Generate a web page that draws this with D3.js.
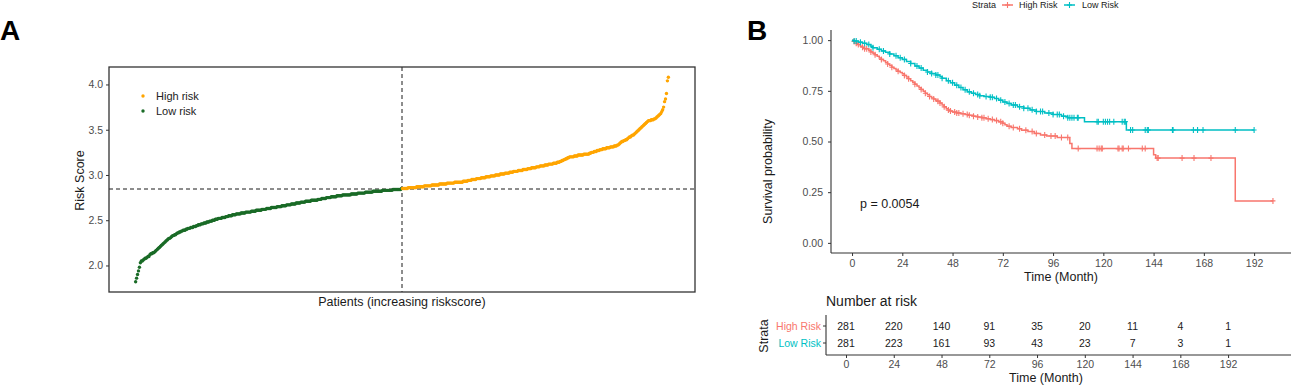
<!DOCTYPE html>
<html>
<head>
<meta charset="utf-8">
<script src="https://cdn.jsdelivr.net/npm/d3@7"></script>
<style>
  body { margin: 0; background: #fff; }
  text { font-family: "Liberation Sans", Arial, Helvetica, sans-serif; }
</style>
</head>
<body>
<div id="chart"></div>
<script>
// ---- Panel A: sorted risk scores ----
const lowRiskScores = [
  1.82,1.86,1.90,1.94,1.98,2.03,2.05,2.05,2.06,2.07,
  2.08,2.08,2.09,2.10,2.10,2.12,2.13,2.13,2.14,2.14,
  2.15,2.16,2.17,2.18,2.19,2.20,2.21,2.22,2.23,2.24,
  2.25,2.26,2.27,2.28,2.29,2.30,2.30,2.31,2.32,2.33,
  2.33,2.34,2.34,2.35,2.36,2.36,2.37,2.37,2.38,2.38,
  2.39,2.39,2.39,2.40,2.40,2.41,2.41,2.41,2.42,2.42,
  2.42,2.43,2.43,2.43,2.44,2.44,2.45,2.45,2.45,2.46,
  2.46,2.46,2.47,2.47,2.47,2.48,2.48,2.48,2.49,2.49,
  2.49,2.50,2.50,2.50,2.51,2.51,2.51,2.52,2.52,2.52,
  2.52,2.53,2.53,2.53,2.53,2.54,2.54,2.54,2.55,2.55,
  2.55,2.55,2.56,2.56,2.56,2.56,2.57,2.57,2.57,2.57,
  2.57,2.58,2.58,2.58,2.58,2.58,2.59,2.59,2.59,2.59,
  2.59,2.59,2.60,2.60,2.60,2.60,2.60,2.61,2.61,2.61,
  2.61,2.61,2.61,2.62,2.62,2.62,2.62,2.62,2.63,2.63,
  2.63,2.63,2.63,2.64,2.64,2.64,2.64,2.64,2.64,2.65,
  2.65,2.65,2.65,2.65,2.66,2.66,2.66,2.66,2.66,2.67,
  2.67,2.67,2.67,2.67,2.68,2.68,2.68,2.68,2.68,2.69,
  2.69,2.69,2.69,2.69,2.70,2.70,2.70,2.70,2.70,2.71,
  2.71,2.71,2.71,2.71,2.71,2.72,2.72,2.72,2.72,2.72,
  2.72,2.72,2.73,2.73,2.73,2.73,2.74,2.74,2.74,2.74,
  2.74,2.75,2.75,2.75,2.75,2.75,2.76,2.76,2.76,2.76,
  2.76,2.76,2.77,2.77,2.77,2.77,2.77,2.77,2.78,2.78,
  2.78,2.78,2.78,2.78,2.78,2.78,2.78,2.79,2.79,2.79,
  2.79,2.79,2.79,2.79,2.80,2.80,2.80,2.80,2.80,2.80,
  2.80,2.80,2.81,2.81,2.81,2.81,2.81,2.81,2.81,2.81,
  2.82,2.82,2.82,2.82,2.82,2.82,2.82,2.82,2.82,2.82,
  2.83,2.83,2.83,2.83,2.83,2.83,2.83,2.83,2.83,2.83,
  2.83,2.84,2.84,2.84,2.84,2.84,2.84,2.84,2.84,2.84,2.85
];
const highRiskScores = [
  2.85,2.85,2.85,2.85,2.85,2.85,2.86,2.86,2.86,2.86,
  2.86,2.86,2.86,2.86,2.86,2.87,2.87,2.87,2.87,2.87,
  2.87,2.87,2.87,2.88,2.88,2.88,2.88,2.88,2.88,2.88,
  2.88,2.89,2.89,2.89,2.89,2.89,2.89,2.89,2.89,2.90,
  2.90,2.90,2.90,2.90,2.90,2.90,2.90,2.91,2.91,2.91,
  2.91,2.91,2.91,2.91,2.91,2.92,2.92,2.92,2.92,2.92,
  2.92,2.92,2.92,2.92,2.93,2.93,2.93,2.93,2.93,2.94,
  2.94,2.94,2.94,2.95,2.95,2.95,2.95,2.95,2.96,2.96,
  2.96,2.96,2.96,2.97,2.97,2.97,2.97,2.97,2.98,2.98,
  2.98,2.98,2.98,2.99,2.99,2.99,2.99,2.99,3.00,3.00,
  3.00,3.00,3.00,3.01,3.01,3.01,3.01,3.01,3.02,3.02,
  3.02,3.02,3.02,3.03,3.03,3.03,3.03,3.04,3.04,3.04,
  3.04,3.04,3.05,3.05,3.05,3.05,3.05,3.06,3.06,3.06,
  3.06,3.06,3.07,3.07,3.07,3.07,3.08,3.08,3.08,3.08,
  3.08,3.09,3.09,3.09,3.09,3.10,3.10,3.10,3.10,3.10,
  3.11,3.11,3.11,3.11,3.12,3.12,3.12,3.12,3.12,3.13,
  3.13,3.13,3.13,3.14,3.14,3.14,3.15,3.15,3.16,3.16,
  3.17,3.17,3.18,3.18,3.19,3.19,3.20,3.20,3.20,3.20,
  3.20,3.21,3.21,3.21,3.21,3.22,3.22,3.22,3.22,3.22,
  3.22,3.23,3.23,3.23,3.23,3.23,3.23,3.24,3.24,3.25,
  3.25,3.25,3.26,3.26,3.26,3.27,3.27,3.27,3.28,3.28,
  3.28,3.29,3.29,3.29,3.29,3.30,3.30,3.30,3.30,3.31,
  3.31,3.31,3.31,3.32,3.32,3.32,3.33,3.33,3.34,3.35,
  3.36,3.37,3.37,3.38,3.38,3.39,3.39,3.40,3.41,3.42,
  3.42,3.43,3.44,3.44,3.45,3.46,3.47,3.48,3.49,3.50,
  3.51,3.52,3.53,3.54,3.55,3.56,3.57,3.58,3.59,3.60,
  3.60,3.60,3.61,3.61,3.61,3.62,3.62,3.63,3.64,3.65,
  3.66,3.67,3.68,3.70,3.72,3.75,3.81,3.84,3.90,4.04,4.08
];
const riskCutoff = 2.845;
const riskTicks = [2.0, 2.5, 3.0, 3.5, 4.0];
const riskColors = { 'High risk': '#FFA500', 'Low risk': '#1a6b27' };

// ---- Panel B: Kaplan-Meier step curves (time in months, survival) ----
const highTimes = [0,1,2,3,4,5,6,8,9,10,11,12,13,14,15,16,17,18,19,20,21,22,23,24,25,26,27,28,29,30,
  31,32,33,34,35,36,37,38,39,40,41,42,43,44,45,46,47,48,50,52,54,56,58,60,62,64,66,68,70,72,
  73,74,76,79,81,84,87,90,93,98,104,105,144,145,183];
const highSurv = [1,0.993,0.985,0.978,0.97,0.965,0.958,0.95,0.942,0.935,0.928,0.92,0.912,0.905,0.898,
  0.89,0.882,0.875,0.866,0.86,0.853,0.846,0.84,0.834,0.826,0.818,0.81,0.8,0.792,0.783,
  0.774,0.765,0.757,0.748,0.738,0.73,0.722,0.715,0.71,0.704,0.698,0.69,0.68,0.671,0.662,
  0.655,0.65,0.645,0.641,0.637,0.633,0.629,0.625,0.621,0.617,0.612,0.608,0.603,0.597,0.59,
  0.583,0.575,0.569,0.563,0.556,0.549,0.54,0.532,0.527,0.52,0.49,0.465,0.435,0.418,0.207];
const highEndTime = 201;
const highCensor = [1,2,3,5,6,7,9,11,14,17,19,22,25,27,30,33,35,37,39,41,42,44,46,47,49,50,51,53,55,56,
  58,60,62,63,65,67,69,71,72,75,77,80,83,86,88,92,95,97,100,103,
  108,117,118,119,119.5,127,127.5,129,129.5,132,138.6,140,145.7,146.2,157.6,163.3,171.4,201];

const lowTimes = [0,1,3,5,7,9,10,12,14,16,18,20,22,24,26,28,30,32,34,36,38,40,42,43,45,47,49,51,53,55,
  57,59,61,63,66,68,70,72,74,76,79,82,85,88,92,96,100,103,111,131];
const lowSurv = [1,0.996,0.99,0.985,0.978,0.97,0.963,0.955,0.947,0.94,0.932,0.923,0.913,0.905,0.895,
  0.885,0.872,0.862,0.852,0.843,0.835,0.828,0.82,0.812,0.8,0.79,0.778,0.766,0.755,0.745,
  0.738,0.732,0.726,0.722,0.718,0.712,0.704,0.695,0.688,0.68,0.672,0.664,0.656,0.648,0.64,
  0.633,0.625,0.617,0.598,0.557];
const lowEndTime = 192;
const lowCensor = [1,2,4,6,8,10,13,15,18,21,23,25,28,31,33,36,38,40,41,43,46,48,50,52,54,56,58,60,61,64,
  66,67,69,71,73,75,77,78,80,82,84,86,88,90,91,94,96,98,99,101,103,104,105,106,
  107.6,108,117,117.6,120,121,122,123,125,129,130,130.5,133,134,140,141,141.5,153,153.3,
  163,165,167.6,183,192];

const timeTicks = [0, 24, 48, 72, 96, 120, 144, 168, 192];
const survTicks = [0, 0.25, 0.5, 0.75, 1];
const highAtRisk = [281, 220, 140, 91, 35, 20, 11, 4, 1];
const lowAtRisk = [281, 223, 161, 93, 43, 23, 7, 3, 1];
const strataNames = ['High Risk', 'Low Risk'];
const strataColors = { 'High Risk': '#F8766D', 'Low Risk': '#00BFC4' };
const pValueLabel = 'p = 0.0054';

// ---------------------------------------------------------------
const svg = d3.select('#chart').append('svg')
  .attr('width', 1291).attr('height', 387)
  .style('background', '#fff');

const tickGrey = '#4d4d4d';

function styleAxis(g, size) {
  g.selectAll('.domain').remove();
  g.selectAll('.tick line').attr('stroke', '#333');
  g.selectAll('.tick text').attr('fill', tickGrey).attr('font-size', size)
    .style('font-family', '"Liberation Sans", Arial, sans-serif');
}

// panel letters
svg.append('text').attr('x', 0).attr('y', 40).attr('font-size', 28).attr('font-weight', 'bold').text('A');
svg.append('text').attr('x', 747).attr('y', 40).attr('font-size', 28).attr('font-weight', 'bold').text('B');

// ================= Panel A =================
const aBox = { left: 109, right: 695, top: 67, bottom: 292 };
const patients = lowRiskScores.map((v, i) => ({ idx: i + 1, score: v, group: 'Low risk' }))
  .concat(highRiskScores.map((v, i) => ({ idx: lowRiskScores.length + i + 1, score: v, group: 'High risk' })));
const nPat = patients.length;

const xA = d3.scaleLinear()
  .domain([1 - 0.05 * (nPat - 1), nPat + 0.05 * (nPat - 1)])
  .range([aBox.left, aBox.right]);
const sExt = d3.extent(patients, d => d.score);
const sPad = (sExt[1] - sExt[0]) * 0.05;
const yA = d3.scaleLinear().domain([sExt[0] - sPad, sExt[1] + sPad]).range([aBox.bottom, aBox.top]);

const gA = svg.append('g');
gA.append('g').attr('transform', `translate(${aBox.left},0)`)
  .call(d3.axisLeft(yA).tickValues(riskTicks).tickFormat(d3.format('.1f')).tickSize(3).tickPadding(3))
  .call(g => styleAxis(g, 10.5));

// cutoff lines
gA.append('line')
  .attr('x1', aBox.left).attr('x2', aBox.right)
  .attr('y1', yA(riskCutoff)).attr('y2', yA(riskCutoff))
  .attr('stroke', '#1a1a1a').attr('stroke-width', 1).attr('stroke-dasharray', '4,3');
const splitX = (xA(lowRiskScores.length) + xA(lowRiskScores.length + 1)) / 2;
gA.append('line')
  .attr('x1', splitX).attr('x2', splitX)
  .attr('y1', aBox.top).attr('y2', aBox.bottom)
  .attr('stroke', '#1a1a1a').attr('stroke-width', 1).attr('stroke-dasharray', '4,3');

gA.selectAll('circle.pt').data(patients).join('circle')
  .attr('class', 'pt')
  .attr('cx', d => xA(d.idx))
  .attr('cy', d => yA(d.score))
  .attr('r', 1.7)
  .attr('fill', d => riskColors[d.group]);

gA.append('rect')
  .attr('x', aBox.left).attr('y', aBox.top)
  .attr('width', aBox.right - aBox.left).attr('height', aBox.bottom - aBox.top)
  .attr('fill', 'none').attr('stroke', '#333').attr('stroke-width', 1.3);

// legend
['High risk', 'Low risk'].forEach((k, i) => {
  gA.append('circle').attr('cx', 143).attr('cy', 96 + i * 15).attr('r', 1.7).attr('fill', riskColors[k]);
  gA.append('text').attr('x', 156).attr('y', 96 + i * 15).attr('dy', '0.35em')
    .attr('font-size', 11).attr('fill', '#222').text(k);
});

gA.append('text')
  .attr('transform', `translate(84,${(aBox.top + aBox.bottom) / 2 + 1}) rotate(-90)`)
  .attr('text-anchor', 'middle').attr('font-size', 12.5).attr('fill', '#1a1a1a').text('Risk Score');
gA.append('text')
  .attr('x', (aBox.left + aBox.right) / 2).attr('y', 306)
  .attr('text-anchor', 'middle').attr('font-size', 12.5).attr('fill', '#1a1a1a')
  .text('Patients (increasing riskscore)');

// ================= Panel B: KM curves =================
const bBox = { left: 831, right: 1294, top: 30, bottom: 253 };
const tMax = Math.max(highEndTime, lowEndTime);
const xB = d3.scaleLinear().domain([-0.05 * tMax, tMax * 1.05]).range([bBox.left, bBox.right]);
const yB = d3.scaleLinear().domain([-0.05, 1.05]).range([bBox.bottom, bBox.top]);

const gB = svg.append('g');
gB.append('g').attr('transform', `translate(${bBox.left},0)`)
  .call(d3.axisLeft(yB).tickValues(survTicks).tickFormat(d3.format('.2f')).tickSize(3).tickPadding(5))
  .call(g => styleAxis(g, 10.5));
gB.append('g').attr('transform', `translate(0,${bBox.bottom})`)
  .call(d3.axisBottom(xB).tickValues(timeTicks).tickFormat(d3.format('d')).tickSize(3).tickPadding(4))
  .call(g => styleAxis(g, 10.5));
gB.append('line').attr('x1', bBox.left).attr('x2', bBox.left).attr('y1', bBox.top).attr('y2', bBox.bottom)
  .attr('stroke', '#333').attr('stroke-width', 1.1);
gB.append('line').attr('x1', bBox.left).attr('x2', 1291).attr('y1', bBox.bottom).attr('y2', bBox.bottom)
  .attr('stroke', '#333').attr('stroke-width', 1.1);

const curves = [
  { name: 'High Risk', times: highTimes, surv: highSurv, end: highEndTime, censor: highCensor },
  { name: 'Low Risk', times: lowTimes, surv: lowSurv, end: lowEndTime, censor: lowCensor }
];
const stepLine = d3.line().x(d => xB(d[0])).y(d => yB(d[1])).curve(d3.curveStepAfter);
const bis = d3.bisector(d => d).right;

curves.forEach(c => {
  const pts = c.times.map((t, i) => [t, c.surv[i]]);
  pts.push([c.end, c.surv[c.surv.length - 1]]);
  gB.append('path').attr('d', stepLine(pts))
    .attr('fill', 'none').attr('stroke', strataColors[c.name]).attr('stroke-width', 1.5);
  // censor marks: survival value at the censor time
  const marks = c.censor.map(t => [t, c.surv[Math.max(0, bis(c.times, t) - 1)]]);
  gB.append('g').selectAll('path').data(marks).join('path')
    .attr('d', d => {
      const x = xB(d[0]), y = yB(d[1]);
      return `M${x - 2.5},${y}H${x + 2.5}M${x},${y - 3}V${y + 3}`;
    })
    .attr('stroke', strataColors[c.name]).attr('stroke-width', 1.1);
});

gB.append('text').attr('x', 860).attr('y', 208).attr('font-size', 12.5).attr('fill', '#1a1a1a').text(pValueLabel);
gB.append('text')
  .attr('transform', `translate(772,${(bBox.top + bBox.bottom) / 2 + 30}) rotate(-90)`)
  .attr('text-anchor', 'middle').attr('font-size', 12.5).attr('fill', '#1a1a1a').text('Survival probability');
gB.append('text').attr('x', (bBox.left + 1291) / 2).attr('y', 281)
  .attr('text-anchor', 'middle').attr('font-size', 12.5).attr('fill', '#1a1a1a').text('Time (Month)');

// top legend
const lg = svg.append('g');
lg.append('text').attr('x', 972).attr('y', 5).attr('dy', '0.35em').attr('font-size', 9).attr('fill', '#1a1a1a').text('Strata');
[['High Risk', 1002, 1019], ['Low Risk', 1064, 1082]].forEach(([k, x0, tx]) => {
  lg.append('line').attr('x1', x0).attr('x2', x0 + 11).attr('y1', 5).attr('y2', 5)
    .attr('stroke', strataColors[k]).attr('stroke-width', 1.5);
  lg.append('path').attr('d', `M${x0 + 3},5H${x0 + 8}M${x0 + 5.5},2V8`)
    .attr('stroke', strataColors[k]).attr('stroke-width', 1.1);
  lg.append('text').attr('x', tx).attr('y', 5).attr('dy', '0.35em').attr('font-size', 9).attr('fill', '#1a1a1a').text(k);
});

// ================= Risk table =================
const tBox = { left: 826, right: 1266, top: 315, bottom: 355 };
const xT = d3.scaleLinear().domain(xB.domain()).range([tBox.left, tBox.right]);
const yT = d3.scalePoint().domain(strataNames).range([326, 343]);

const gT = svg.append('g');
gT.append('text').attr('x', 826).attr('y', 306).attr('font-size', 14).attr('fill', '#1a1a1a').text('Number at risk');
gT.append('line').attr('x1', tBox.left).attr('x2', tBox.left).attr('y1', tBox.top).attr('y2', tBox.bottom)
  .attr('stroke', '#333').attr('stroke-width', 1.1);
gT.append('line').attr('x1', tBox.left).attr('x2', 1291).attr('y1', tBox.bottom).attr('y2', tBox.bottom)
  .attr('stroke', '#333').attr('stroke-width', 1.1);
strataNames.forEach(k => {
  gT.append('line').attr('x1', tBox.left - 3).attr('x2', tBox.left).attr('y1', yT(k)).attr('y2', yT(k)).attr('stroke', '#333');
  gT.append('text').attr('x', tBox.left - 5).attr('y', yT(k)).attr('dy', '0.35em')
    .attr('text-anchor', 'end').attr('font-size', 10.5).attr('fill', strataColors[k]).text(k);
});
const atRisk = { 'High Risk': highAtRisk, 'Low Risk': lowAtRisk };
strataNames.forEach(k => {
  gT.append('g').selectAll('text').data(atRisk[k]).join('text')
    .attr('x', (d, i) => xT(timeTicks[i]))
    .attr('y', yT(k)).attr('dy', '0.35em')
    .attr('text-anchor', 'middle').attr('font-size', 10.5).attr('fill', '#1a1a1a')
    .text(d => d);
});
gT.append('g').attr('transform', `translate(0,${tBox.bottom})`)
  .call(d3.axisBottom(xT).tickValues(timeTicks).tickFormat(d3.format('d')).tickSize(3).tickPadding(3))
  .call(g => styleAxis(g, 10.5));
gT.append('text')
  .attr('transform', `translate(768,336) rotate(-90)`)
  .attr('text-anchor', 'middle').attr('font-size', 12.5).attr('fill', '#1a1a1a').text('Strata');
gT.append('text').attr('x', (tBox.left + tBox.right) / 2).attr('y', 382)
  .attr('text-anchor', 'middle').attr('font-size', 12.5).attr('fill', '#1a1a1a').text('Time (Month)');
</script>
</body>
</html>
